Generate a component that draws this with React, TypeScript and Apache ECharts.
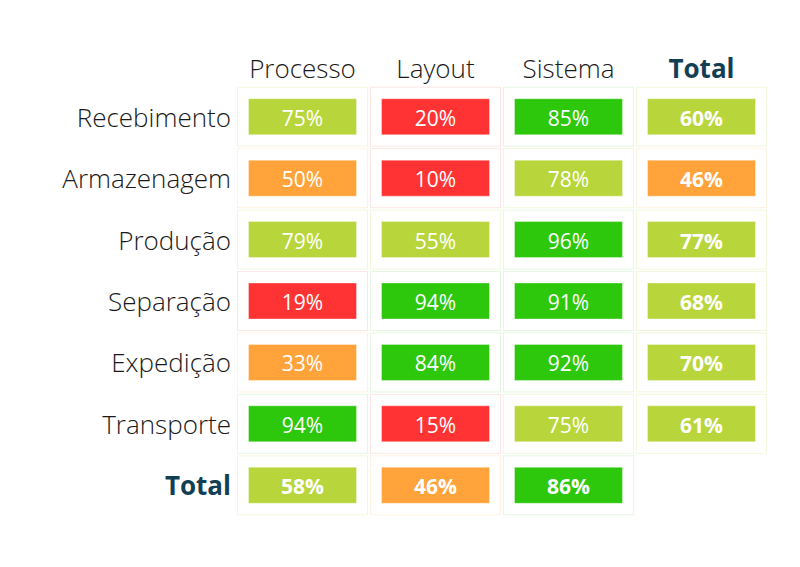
import React, { useEffect, useRef } from "react";
import * as echarts from "echarts";

const columns = ["Processo", "Layout", "Sistema", "Total"];
const rows = ["Recebimento", "Armazenagem", "Produção", "Separação", "Expedição", "Transporte", "Total"];
const processo = [75, 50, 79, 19, 33, 94, 58];
const layout = [20, 10, 55, 94, 84, 15, 46];
const sistema = [85, 78, 96, 91, 92, 75, 86];
const total = [60, 46, 77, 68, 70, 61];

const RED = "#FF3333";
const ORANGE = "#FFA33A";
const LIME = "#B8D63B";
const GREEN = "#2DC80C";

function colorFor(v: number): string {
  if (v < 30) return RED;
  if (v < 55) return ORANGE;
  if (v < 84) return LIME;
  return GREEN;
}
function tintFor(v: number): string {
  if (v < 30) return "rgba(255,51,51,0.12)";
  if (v < 55) return "rgba(255,163,58,0.14)";
  if (v < 84) return "rgba(184,214,59,0.18)";
  return "rgba(45,200,12,0.12)";
}

export default function App() {
  const ref = useRef<HTMLDivElement>(null);
  useEffect(() => {
    document.body.style.margin = "0";
    if (!ref.current) return;
    const chart = echarts.init(ref.current, undefined, { renderer: "svg" });
    const cols = [processo, layout, sistema, total];
    const data: number[][] = [];
    cols.forEach((arr, ci) => arr.forEach((v, ri) => data.push([ci, ri, v])));
    const labelFont = "'Open Sans', Lato, sans-serif";
    const fmt = (v: string) => (v === "Total" ? "{b|Total}" : v);
    chart.setOption({
      animation: false,
      backgroundColor: "#ffffff",
      grid: { left: 236, right: 32, top: 86, bottom: 51 },
      xAxis: {
        type: "category",
        data: columns,
        position: "top",
        axisLine: { show: false },
        axisTick: { show: false },
        splitLine: { show: false },
        axisLabel: {
          interval: 0,
          margin: 5,
          fontSize: 26,
          fontWeight: 300,
          fontFamily: labelFont,
          color: "#1a1a1a",
          formatter: fmt,
          rich: { b: { fontSize: 26, fontWeight: "bold", color: "#133F55", fontFamily: labelFont } },
        },
      },
      yAxis: {
        type: "category",
        data: rows,
        inverse: true,
        axisLine: { show: false },
        axisTick: { show: false },
        splitLine: { show: false },
        axisLabel: {
          interval: 0,
          margin: 5,
          fontSize: 26,
          fontWeight: 300,
          fontFamily: labelFont,
          color: "#1a1a1a",
          formatter: fmt,
          rich: { b: { fontSize: 26, fontWeight: "bold", color: "#133F55", fontFamily: labelFont } },
        },
      },
      series: [
        {
          type: "custom",
          data,
          renderItem: (params: any, api: any) => {
            const ci = api.value(0);
            const ri = api.value(1);
            const v = api.value(2);
            const c = api.coord([ci, ri]);
            const s = api.size([1, 1]);
            const cw = s[0] - 3;
            const ch = s[1] - 2.5;
            const bw = 108;
            const bh = 36;
            const bold = ci === 3 || ri === 6;
            return {
              type: "group",
              children: [
                {
                  type: "rect",
                  shape: { x: c[0] - cw / 2, y: c[1] - ch / 2, width: cw, height: ch },
                  style: { fill: "#ffffff", stroke: tintFor(v), lineWidth: 1 },
                },
                {
                  type: "rect",
                  shape: { x: c[0] - bw / 2, y: c[1] - bh / 2, width: bw, height: bh },
                  style: { fill: colorFor(v), stroke: "rgba(255,255,255,0.35)", lineWidth: 1 },
                },
                {
                  type: "text",
                  x: c[0],
                  y: c[1] + 1,
                  style: {
                    text: v + "%",
                    fill: "#ffffff",
                    fontSize: 21,
                    fontWeight: bold ? "bold" : 500,
                    fontFamily: "'Open Sans', Lato, sans-serif",
                    align: "center",
                    verticalAlign: "middle",
                  },
                },
              ],
            };
          },
        },
      ],
    });
    return () => chart.dispose();
  }, []);
  return <div ref={ref} style={{ width: 800, height: 567 }} />;
}
